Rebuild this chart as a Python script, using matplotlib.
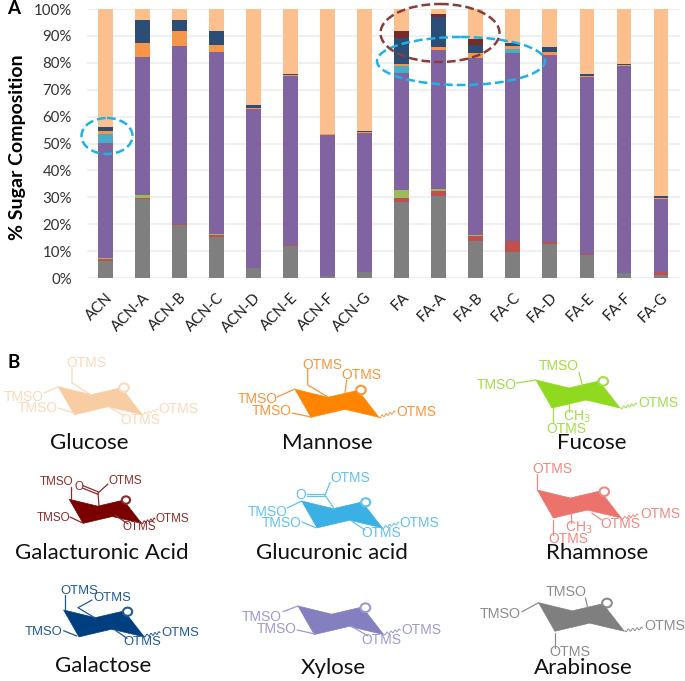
import numpy as np
import matplotlib
matplotlib.use('Agg')
import matplotlib.pyplot as plt
from matplotlib.patches import Ellipse, Polygon

# Sugar composition per sample (%)
samples = ['ACN', 'ACN-A', 'ACN-B', 'ACN-C', 'ACN-D', 'ACN-E', 'ACN-F', 'ACN-G',
           'FA', 'FA-A', 'FA-B', 'FA-C', 'FA-D', 'FA-E', 'FA-F', 'FA-G']
arabinose = [6.5, 29.3, 19.7, 15.3, 3.7, 12.0, 0.8, 2.1, 28.2, 30.6, 13.8, 9.7, 12.5, 8.4, 1.9, 1.3]
rhamnose = [0.5, 0.4, 0.2, 0.6, 0, 0.2, 0, 0, 1.7, 1.8, 1.7, 4.1, 0.8, 0.4, 0, 0.8]
fucose = [0.5, 1.2, 0.3, 0.3, 0, 0, 0, 0, 2.7, 0.7, 0.5, 0, 0, 0, 0, 0]
xylose = [42.8, 51.4, 66.0, 67.8, 59.3, 63.0, 52.4, 51.9, 43.7, 51.6, 65.8, 69.7, 69.7, 66.0, 76.9, 27.2]
glucuronic = [3.4, 0, 0, 0, 0, 0, 0, 0, 2.5, 0, 0, 1.5, 0, 0, 0, 0]
mannose = [1.0, 4.9, 5.8, 2.6, 0.3, 0.2, 0.5, 0.4, 0.8, 1.3, 1.7, 1.1, 0.9, 0.2, 0.4, 0.6]
galactose = [1.3, 8.8, 4.0, 5.4, 0.9, 0.5, 0, 0.2, 9.6, 11.0, 3.1, 1.4, 1.8, 0.8, 0.3, 0.6]
galacturonic = [0, 0, 0, 0, 0, 0, 0, 0, 2.5, 1.1, 2.3, 0, 0, 0, 0, 0]
glucose = [44.0, 4.0, 4.0, 8.0, 35.8, 24.1, 46.3, 45.4, 8.3, 1.9, 11.1, 12.5, 14.3, 24.2, 20.5, 69.5]

stack = [arabinose, rhamnose, fucose, xylose, glucuronic, mannose, galactose, galacturonic, glucose]
stack_colors = ['#7F7F7F', '#C0504D', '#9BBB59', '#8064A2', '#4BACC6',
                '#F79646', '#2C4D75', '#772C2A', '#FCC08F']

plt.rcParams['font.family'] = ['Lato', 'DejaVu Sans']

W, H = 685, 681
fig = plt.figure(figsize=(W / 100, H / 100), dpi=100)
ax = fig.add_axes([87 / W, 1 - 278 / H, 592.5 / W, 269 / H])

x = np.arange(len(samples))
bottom = np.zeros(len(samples))
for vals, col in zip(stack, stack_colors):
    ax.bar(x, vals, width=0.4, bottom=bottom, color=col, zorder=3)
    bottom += np.array(vals)

ax.set_xlim(-0.5, 15.5)
ax.set_ylim(0, 100)
ax.set_yticks(range(0, 101, 10))
ax.set_yticklabels([f'{v}%' for v in range(0, 101, 10)], fontsize=10.8, color='#333333')
ax.set_xticks(x)
ax.set_xticklabels(samples, rotation=45, ha='right', rotation_mode='anchor',
                   fontsize=10.8, color='#1F1F1F')
ax.tick_params(length=0)
ax.tick_params(axis='y', pad=11)
ax.tick_params(axis='x', pad=9)
ax.grid(axis='y', color='#EFEFEF', lw=1.3, zorder=0)
ax.set_axisbelow(True)
for s in ax.spines.values():
    s.set_visible(False)

# overlay in image pixels for the annotations and panel B
ov = fig.add_axes([0, 0, 1, 1], facecolor='none')
ov.set_xlim(0, W)
ov.set_ylim(H, 0)
ov.axis('off')

ov.text(18, 147, '% Sugar Composition', rotation=90, ha='center', va='center',
        fontsize=14, fontweight='bold', color='black')
ov.text(14, 9, 'A', ha='center', va='center', fontsize=13.5, fontweight='bold')
ov.text(14, 362, 'B', ha='center', va='center', fontsize=13.5, fontweight='bold')

ov.add_patch(Ellipse((107, 136), 51, 36, fill=False, ec='#1CB2E8', lw=1.8, ls=(0, (3.5, 1.6))))
ov.add_patch(Ellipse((461, 61), 168, 48, fill=False, ec='#1CB2E8', lw=1.8, ls=(0, (3.5, 1.6))))
ov.add_patch(Ellipse((440, 33), 119, 58, fill=False, ec='#8C3B3B', lw=1.8, ls=(0, (3.5, 1.6))))

ring = np.array([[0, 0], [33, 8], [63, 1], [84, 28], [50, 20], [16, 28]], dtype=float)


def draw_sugar(name, name_xy, anchor, scale, fill, ink, o_xy, labels, bonds, wave, doubles=(), size=10):
    ov.add_patch(Polygon(ring * scale + anchor, closed=True, fc=fill, ec=fill, lw=0.5))
    for seg in bonds:
        seg = np.array(seg)
        ov.plot(seg[:, 0], seg[:, 1], color=ink, lw=0.9, solid_capstyle='round')
    for seg in doubles:
        seg = np.array(seg)
        ov.plot(seg[:, 0], seg[:, 1] - 1.3, color=ink, lw=0.9)
        ov.plot(seg[:, 0], seg[:, 1] + 1.3, color=ink, lw=0.9)
    # squiggly anomeric bond
    (x0, y0), (x1, y1) = wave
    t = np.linspace(0, 1, 50)
    ov.plot(x0 + (x1 - x0) * t, y0 + (y1 - y0) * t + 1.2 * np.sin(t * 4 * 2 * np.pi),
            color=ink, lw=0.7)
    ov.add_patch(Ellipse(o_xy, 9.5 * scale, 8.5 * scale, fc='white', ec=ink, lw=1.5, zorder=4))
    for txt, lx, ly in labels:
        ov.text(lx, ly, txt, color=ink, ha='center', va='center', fontsize=size,
                family='Liberation Sans', zorder=5)
    ov.text(name_xy[0], name_xy[1], name, ha='center', va='center', fontsize=16, color='#111111')


draw_sugar('Glucose', (89, 443), (58.3, 386.7), 1.0, '#F8CDA4', '#FAD9BC', (124, 387.7),
           [('OTMS', 86.7, 362.7), ('TMSO', 23.3, 396.7), ('TMSO', 37.3, 408),
            ('OTMS', 140, 420), ('OTMS', 178.7, 409.3)],
           [[(72, 368), (72, 383), (91, 395)], [(44, 393), (58, 387)], [(58, 408), (74, 413)],
            [(107, 406), (125, 416)]],
           [(142, 414), (158, 410)])
draw_sugar('Mannose', (327, 443), (295, 389.3), 1.0, '#FF8500', '#F9953A', (361, 390),
           [('OTMS', 322.7, 364.7), ('OTMS', 361.7, 375.3), ('TMSO', 257.3, 399.3),
            ('TMSO', 271.7, 411), ('OTMS', 416.7, 412)],
           [[(307.7, 369), (307.7, 385), (328, 397)], [(346.7, 380), (345, 393)],
            [(277, 397), (295, 389)], [(292, 413), (311, 417)]],
           [(379, 417), (395, 412)])
draw_sugar('Fucose', (591.7, 443), (536, 380), 1.0, '#8FD91E', '#9FDF45', (603.3, 381.3),
           [('TMSO', 558.3, 366), ('TMSO', 496.7, 385.3), ('OTMS', 658.3, 403.3),
            ('OTMS', 566.7, 429), ('CH$_3$', 576.7, 416.7)],
           [[(579, 372), (582.7, 386.7)], [(516.7, 383), (536, 380)], [(552.7, 408), (552.7, 423)],
            [(569.3, 403), (569.3, 412)]],
           [(620.7, 408), (636.7, 404)])
draw_sugar('Galacturonic Acid', (101.7, 553), (69.3, 499.3), 0.86, '#7A0000', '#8E2A2A', (126, 500),
           [('TMSO', 56.7, 482.3), ('O', 78.7, 486.7), ('OTMS', 125, 481), ('TMSO', 53.3, 517.7),
            ('OTMS', 139.3, 527.3), ('OTMS', 172, 519)],
           [[(70.7, 487), (70.7, 499)], [(108, 484), (98, 493)], [(98, 493), (99, 506)],
            [(70, 517), (82, 522.7)], [(115, 515), (128, 524)]],
           [(141.7, 522.7), (155, 519)], doubles=[[(83, 487), (98, 493)]], size=8.4)
draw_sugar('Glucuronic acid', (331.7, 553), (301.7, 501), 0.96, '#3AB0E4', '#62C2EC', (365.7, 502.3),
           [('OTMS', 350, 477.7), ('O', 301, 495.3), ('TMSO', 267.7, 511.7), ('TMSO', 281.7, 522.7),
            ('OTMS', 381.7, 533.3), ('OTMS', 419, 523.3)],
           [[(330, 482.7), (325, 495)], [(325, 495), (334.3, 509)], [(287, 508), (301.7, 501)],
            [(302, 522), (316, 527.7)], [(350, 520), (365, 530)]],
           [(382.3, 527.7), (399, 523)], doubles=[[(306.7, 495), (325, 495)]], size=9.9)
draw_sugar('Rhamnose', (596.7, 553), (537.3, 490), 1.0, '#EC736C', '#F08883', (604.3, 491.7),
           [('OTMS', 552.7, 469), ('OTMS', 660.7, 514), ('OTMS', 620.7, 524.3),
            ('CH$_3$', 578.3, 527.7), ('OTMS', 568.7, 539.3)],
           [[(537.3, 474), (537.3, 490)], [(553.3, 520), (553.3, 535)], [(570.7, 513), (570.7, 522.7)],
            [(591.7, 513), (601.7, 520)]],
           [(621.7, 518.3), (638, 515)])
draw_sugar('Galactose', (103, 665.7), (63.6, 610), 0.96, '#003F7F', '#1F5A96', (127.6, 611.7),
           [('OTMS', 79, 590.7), ('OTMS', 111.8, 598), ('TMSO', 43.9, 631.7),
            ('OTMS', 142.5, 642.3), ('OTMS', 179.8, 632.7)],
           [[(65, 595), (65, 610)], [(92, 600), (78, 607.7), (95.6, 618.3)],
            [(63.6, 630.7), (76.8, 636)], [(115, 630), (127, 638.3)]],
           [(143.9, 636), (160, 632.7)], size=9.4)
draw_sugar('Xylose', (333, 667.7), (298, 606), 1.02, '#8480C0', '#9C9AD2', (365.4, 607.7),
           [('TMSO', 261.8, 617.3), ('TMSO', 276.3, 629), ('OTMS', 421, 629.7), ('OTMS', 381.6, 640)],
           [[(283, 611.7), (298, 606)], [(297, 630), (315, 634)], [(351, 626), (368, 636)]],
           [(384, 634), (400, 630)])
draw_sugar('Arabinose', (583, 667.7), (538.6, 602.7), 1.02, '#7F7F7F', '#8C8C8C', (607, 603),
           [('TMSO', 565.8, 592), ('TMSO', 500, 614), ('OTMS', 664.5, 626), ('OTMS', 570, 652.5)],
           [[(585.5, 598), (587.7, 608)], [(522, 611.7), (538.6, 602.7)], [(555, 632.7), (555, 648.3)]],
           [(625, 630.7), (642.5, 628.3)], size=10.3)

fig.savefig('out.png', dpi=100)
